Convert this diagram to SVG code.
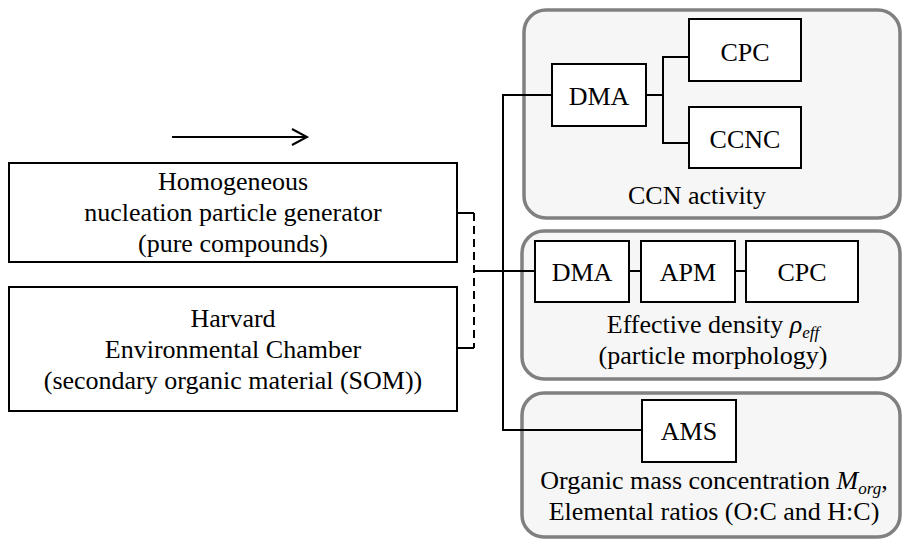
<svg xmlns="http://www.w3.org/2000/svg" width="902" height="540" viewBox="0 0 902 540">
<style>
.t{font-family:'Liberation Serif','Tinos','Noto Serif','Times New Roman','Times','Nimbus Roman','FreeSerif','DejaVu Serif',serif;font-size:26px;fill:#000;text-anchor:middle}
.box{fill:#fff;stroke:#000;stroke-width:2}
.grp{fill:#f6f6f6;stroke:#808080;stroke-width:3.5}
.ln{fill:none;stroke:#000;stroke-width:2}
.i{font-style:italic}
.sub{font-style:italic;font-size:17px}
</style>
<rect width="902" height="540" fill="#fff"/>
<g id="group-ccn">
<rect class="grp" x="524" y="10" width="376" height="208" rx="22"/>
<text class="t" x="697" y="204">CCN activity</text>
</g>
<g id="group-density">
<rect class="grp" x="522" y="231" width="378" height="148" rx="22"/>
<text class="t" x="713" y="333">Effective density <tspan class="i">ρ</tspan><tspan class="sub" dy="5">eff</tspan></text>
<text class="t" x="713" y="364">(particle morphology)</text>
</g>
<g id="group-ams">
<rect class="grp" x="522" y="393" width="378" height="144" rx="22"/>
<text class="t" x="714" y="489">Organic mass concentration <tspan class="i">M</tspan><tspan class="sub" dy="5">org</tspan><tspan dy="-5">,</tspan></text>
<text class="t" x="714" y="520">Elemental ratios (O:C and H:C)</text>
</g>
<g id="connectors">
<line class="ln" x1="172" y1="137" x2="306" y2="137"/>
<polyline class="ln" points="292,129 307,137 292,145"/>
<polyline class="ln" points="457,213 474,213"/>
<polyline class="ln" points="457,348 474,348"/>
<line class="ln" x1="474" y1="213" x2="474" y2="348" stroke-dasharray="8,5"/>
<line class="ln" x1="474" y1="271" x2="535" y2="271"/>
<polyline class="ln" points="552,95 503,95 503,430 642,430"/>
<polyline class="ln" points="646,95 663,95"/>
<polyline class="ln" points="689,57 663,57 663,143 689,143"/>
<line class="ln" x1="629" y1="271" x2="641" y2="271"/>
<line class="ln" x1="735" y1="271" x2="746" y2="271"/>
</g>
<g id="node-homogeneous">
<rect class="box" x="9" y="163" width="448" height="99"/>
<text class="t" x="233" y="190">Homogeneous</text>
<text class="t" x="233" y="221">nucleation particle generator</text>
<text class="t" x="233" y="252">(pure compounds)</text>
</g>
<g id="node-harvard">
<rect class="box" x="9" y="287" width="448" height="124"/>
<text class="t" x="233" y="327">Harvard</text>
<text class="t" x="233" y="358">Environmental Chamber</text>
<text class="t" x="233" y="389">(secondary organic material (SOM))</text>
</g>
<g id="node-dma1">
<rect class="box" x="552" y="64" width="94" height="62"/>
<text class="t" x="599" y="105">DMA</text>
</g>
<g id="node-cpc1">
<rect class="box" x="689" y="19" width="112" height="62"/>
<text class="t" x="745" y="61">CPC</text>
</g>
<g id="node-ccnc">
<rect class="box" x="689" y="107" width="112" height="61"/>
<text class="t" x="745" y="148">CCNC</text>
</g>
<g id="node-dma2">
<rect class="box" x="535" y="241" width="94" height="61"/>
<text class="t" x="582" y="281">DMA</text>
</g>
<g id="node-apm">
<rect class="box" x="641" y="241" width="94" height="61"/>
<text class="t" x="688" y="281">APM</text>
</g>
<g id="node-cpc2">
<rect class="box" x="746" y="241" width="112" height="61"/>
<text class="t" x="802" y="281">CPC</text>
</g>
<g id="node-ams">
<rect class="box" x="642" y="400" width="94" height="62"/>
<text class="t" x="689" y="440">AMS</text>
</g>
</svg>
